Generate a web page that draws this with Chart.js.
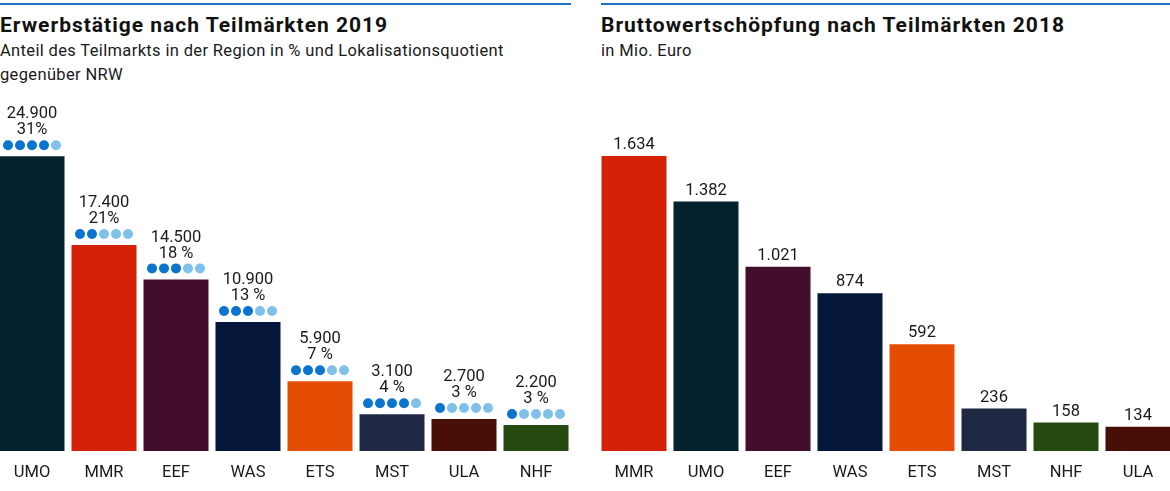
<!DOCTYPE html>
<html>
<head>
<meta charset="utf-8">
<script src="https://cdn.jsdelivr.net/npm/chart.js@4/dist/chart.umd.min.js"></script>
<style>
  html, body { margin: 0; padding: 0; background: #fff; }
  body { width: 1170px; height: 491px; overflow: hidden; position: relative; font-family: Roboto, "Noto Sans", sans-serif; color: #1a1a1a; }
  .rule { position: absolute; top: 3px; height: 2px; background: #1f6fc6; }
  .title { position: absolute; top: 12px; font-weight: 700; font-size: 21px; line-height: 26px; letter-spacing: 1px; color: #111; white-space: nowrap; }
  .sub { position: absolute; top: 39px; font-size: 16.5px; line-height: 24px; letter-spacing: 0.35px; color: #1a1a1a; white-space: nowrap; }
  canvas { position: absolute; top: 90px; }
</style>
</head>
<body>
<div class="rule" style="left:0;width:571px"></div>
<div class="rule" style="left:601px;width:569px"></div>
<div class="title" style="left:0">Erwerbstätige nach Teilmärkten 2019</div>
<div class="sub" style="left:0">Anteil des Teilmarkts in der Region in % und Lokalisationsquotient<br>gegenüber NRW</div>
<div class="title" style="left:601px">Bruttowertschöpfung nach Teilmärkten 2018</div>
<div class="sub" style="left:601px">in Mio. Euro</div>

<canvas id="c1" width="576" height="401" style="left:-4px"></canvas>
<canvas id="c2" width="576" height="401" style="left:598px"></canvas>

<script>
// ---- Data: Erwerbstätige 2019 ----
const empCategories = ['UMO', 'MMR', 'EEF', 'WAS', 'ETS', 'MST', 'ULA', 'NHF'];
const empValues = [24900, 17400, 14500, 10900, 5900, 3100, 2700, 2200];
const empShareLabels = ['31%', '21%', '18 %', '13 %', '7 %', '4 %', '3 %', '3 %'];
const empQuotientDots = [4, 2, 3, 3, 3, 4, 1, 1];

// ---- Data: Bruttowertschöpfung 2018 (Mio. Euro) ----
const gvaCategories = ['MMR', 'UMO', 'EEF', 'WAS', 'ETS', 'MST', 'NHF', 'ULA'];
const gvaValues = [1634, 1382, 1021, 874, 592, 236, 158, 134];

// ---- Styles ----
const marketColors = {
  UMO: '#04232f', MMR: '#d42107', EEF: '#420e2b', WAS: '#04173a',
  ETS: '#e54d05', MST: '#1f2842', ULA: '#470f08', NHF: '#244a10'
};
const dotDark = '#0b74cf';
const dotLight = '#80c1ec';
const FONT = 'Roboto, "Noto Sans", sans-serif';

function fmt(n) {
  return String(n).replace(/\B(?=(\d{3})+(?!\d))/g, '.');
}

const labelsPlugin = {
  id: 'barLabels',
  afterDatasetsDraw(chart, args, opts) {
    const ctx = chart.ctx;
    const meta = chart.getDatasetMeta(0);
    const data = chart.data.datasets[0].data;
    ctx.save();
    ctx.textAlign = 'center';
    ctx.textBaseline = 'middle';
    ctx.fillStyle = '#1a1a1a';
    ctx.font = '16.5px ' + FONT;
    meta.data.forEach((bar, i) => {
      const x = bar.x, y = bar.y;
      if (opts.mode === 'emp') {
        ctx.fillText(fmt(data[i]), x, y - 42);
        ctx.fillText(empShareLabels[i], x, y - 26);
        const n = empQuotientDots[i];
        for (let d = 0; d < 5; d++) {
          ctx.beginPath();
          ctx.arc(x + (d - 2) * 12, y - 11, 5, 0, Math.PI * 2);
          ctx.fillStyle = d < n ? dotDark : dotLight;
          ctx.fill();
        }
        ctx.fillStyle = '#1a1a1a';
      } else {
        ctx.fillText(fmt(data[i]), x, y - 11);
      }
    });
    ctx.restore();
  }
};

function makeChart(id, cats, vals, max, mode) {
  return new Chart(document.getElementById(id), {
    type: 'bar',
    data: {
      labels: cats,
      datasets: [{
        data: vals,
        backgroundColor: cats.map(c => marketColors[c]),
        borderWidth: 0,
        categoryPercentage: 1,
        barPercentage: 65 / 72
      }]
    },
    options: {
      responsive: false,
      animation: false,
      devicePixelRatio: 1,
      layout: { padding: 0 },
      plugins: {
        legend: { display: false },
        tooltip: { enabled: false },
        barLabels: { mode: mode }
      },
      scales: {
        x: {
          grid: { display: false, drawTicks: false },
          border: { display: false },
          ticks: { color: '#1a1a1a', font: { family: FONT, size: 16.5 }, padding: 12 },
          afterFit(s) { s.height = 40; }
        },
        y: { display: false, min: 0, max: max }
      }
    },
    plugins: [labelsPlugin]
  });
}

makeChart('c1', empCategories, empValues, 30500, 'emp');
makeChart('c2', gvaCategories, gvaValues, 2000, 'gva');
</script>
</body>
</html>
